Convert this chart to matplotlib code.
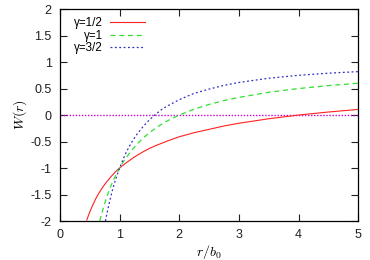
import matplotlib
matplotlib.use("Agg")
import matplotlib.pyplot as plt

# values
r_half = [0.45, 0.5, 0.55, 0.6, 0.65, 0.7, 0.75, 0.8, 0.85, 0.9, 0.95, 1.0, 1.1, 1.25, 1.4, 1.5, 1.6, 1.8,
          2.0, 2.25, 2.5, 2.75, 3.0, 3.5, 4.0, 4.5, 5.0]
w_half = [-1.98, -1.83, -1.70, -1.58, -1.48, -1.39, -1.31, -1.24, -1.17, -1.11, -1.05, -1.0, -0.91, -0.79, -0.69,
          -0.63, -0.58, -0.49, -0.41, -0.333, -0.27, -0.206, -0.155, -0.07, 0.0, 0.057, 0.106]

r_one = [0.667, 0.7, 0.75, 0.8, 0.85, 0.9, 0.95, 1.0, 1.05, 1.1, 1.2, 1.3, 1.4, 1.5, 1.6, 1.7, 1.8, 2.0,
         2.25, 2.5, 2.75, 3.0, 3.5, 4.0, 4.5, 5.0]
w_one = [-2.0, -1.86, -1.67, -1.5, -1.35, -1.22, -1.105, -1.0, -0.905, -0.82, -0.67, -0.54, -0.43, -0.333,
         -0.25, -0.176, -0.11, 0.0, 0.111, 0.2, 0.273, 0.333, 0.43, 0.5, 0.556, 0.6]

r_3half = [0.763, 0.78, 0.8, 0.825, 0.85, 0.875, 0.9, 0.925, 0.95, 1.0, 1.05, 1.1, 1.15, 1.2, 1.25, 1.3, 1.4,
           1.5, 1.6, 1.7, 1.8, 2.0, 2.25, 2.5, 2.75, 3.0, 3.5, 4.0, 4.5, 5.0]
w_3half = [-2.0, -1.90, -1.80, -1.67, -1.55, -1.44, -1.34, -1.25, -1.16, -1.0, -0.86, -0.73, -0.62, -0.52,
           -0.43, -0.35, -0.21, -0.09, 0.01, 0.10, 0.17, 0.29, 0.41, 0.49, 0.56, 0.615, 0.695, 0.75, 0.79, 0.82]

xticks = [0, 1, 2, 3, 4, 5]
yticks = [-2, -1.5, -1, -0.5, 0, 0.5, 1, 1.5, 2]
ytick_labels = ["-2", "-1.5", "-1", "-0.5", "0", "0.5", "1", "1.5", "2"]

plt.rcParams['font.family'] = ['Liberation Sans', 'DejaVu Sans']
plt.rcParams['mathtext.fontset'] = 'cm'
plt.rcParams['axes.unicode_minus'] = False

fig = plt.figure(figsize=(3.7, 2.6), dpi=100)
ax = fig.add_axes([0.162, 0.15, 0.806, 0.815])

ax.axhline(0, color='#d000d0', lw=1.0, ls=(0, (1, 1.2)))
ax.plot(r_half, w_half, color='#ff2020', lw=0.8, label='γ=1/2')
ax.plot(r_one, w_one, color='#30e030', lw=0.9, ls=(0, (4, 3)), label='γ=1')
ax.plot(r_3half, w_3half, color='#3030c0', lw=0.9, ls=(0, (1.5, 2)), label='γ=3/2')

ax.set_xlim(0, 5)
ax.set_ylim(-2, 2)
ax.set_xticks(xticks)
ax.set_yticks(yticks)
ax.set_yticklabels(ytick_labels)
ax.tick_params(direction='in', top=True, right=True, length=5, width=0.8, labelsize=9, pad=6, colors='#202020')
for s in ax.spines.values():
    s.set_linewidth(0.9)

ax.set_xlabel(r'$r/b_0$', fontsize=10, labelpad=1)
ax.set_ylabel(r'$W(r)$', fontsize=10, labelpad=1)

ax.legend(loc='upper left', bbox_to_anchor=(0.02, 1.0), frameon=False, markerfirst=False,
          fontsize=8.4, handlelength=3.0, handletextpad=0.6, labelspacing=0.05, borderaxespad=0.3)

fig.savefig('out.png', dpi=100)
